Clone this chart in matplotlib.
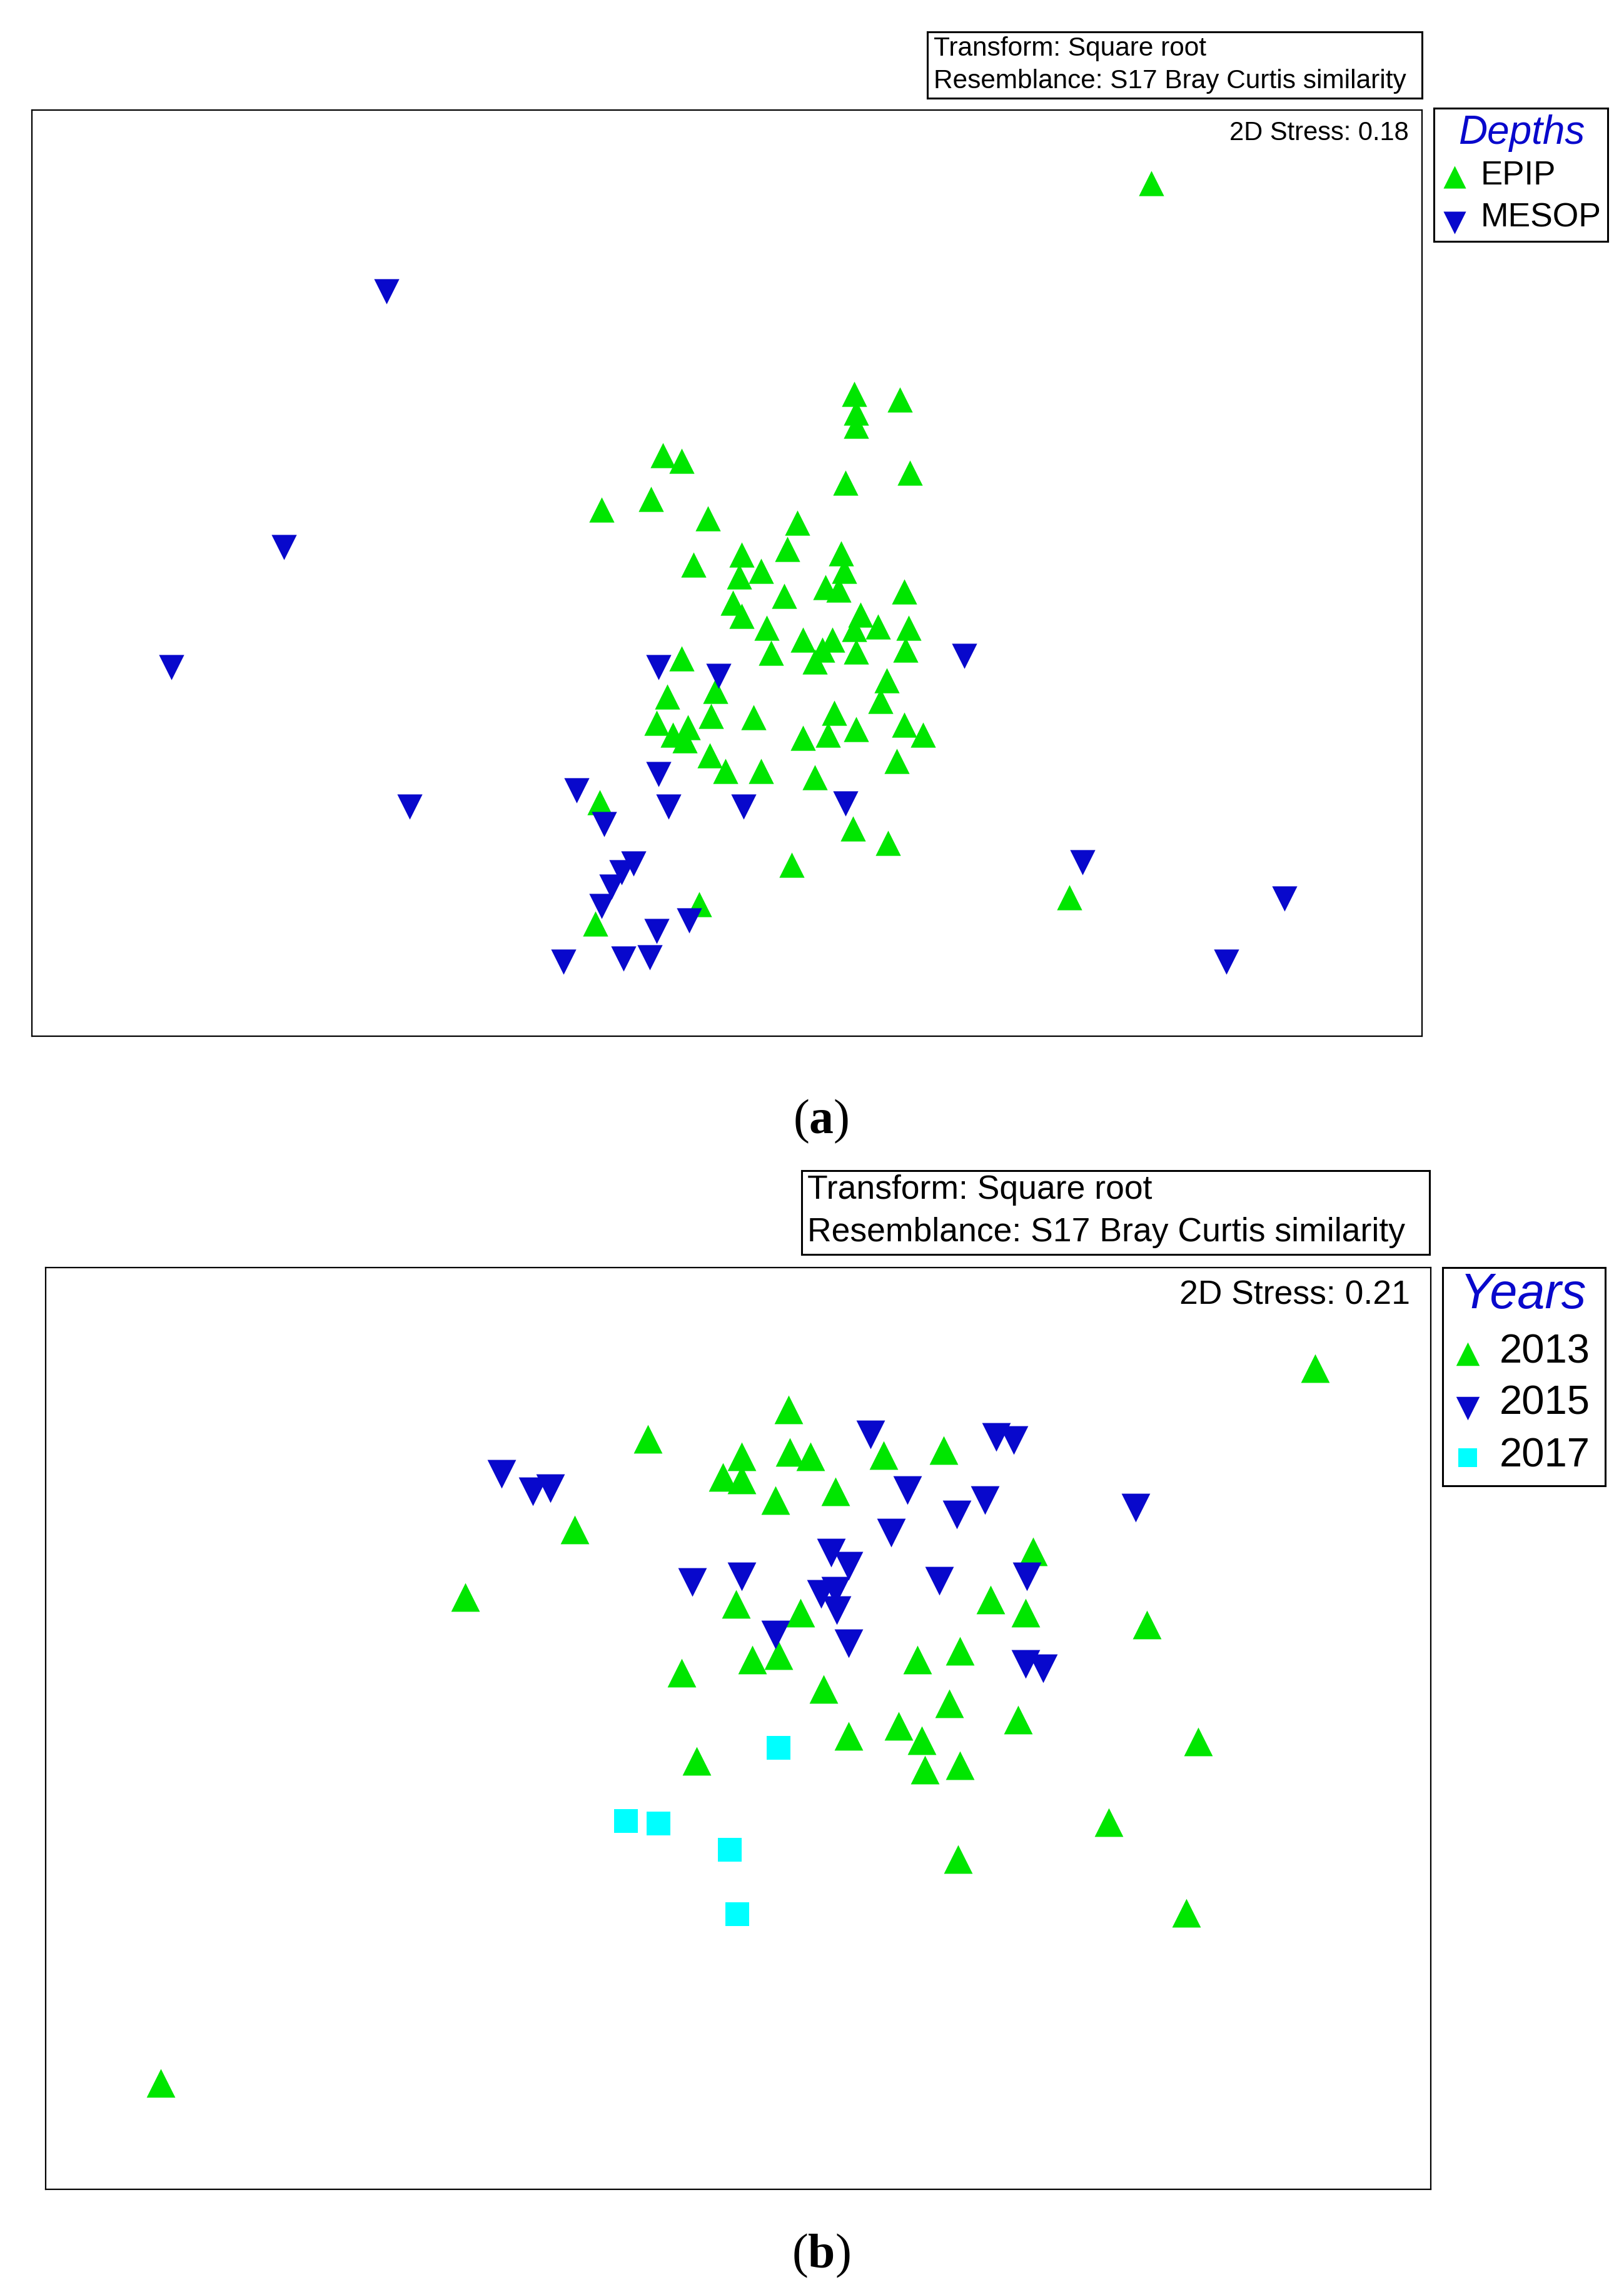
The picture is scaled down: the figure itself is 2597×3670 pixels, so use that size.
import matplotlib
matplotlib.use("Agg")
import matplotlib.pyplot as plt

plt.rcParams['font.family'] = ['Liberation Sans', 'DejaVu Sans']
plt.rcParams['mathtext.fontset'] = 'custom'
plt.rcParams['mathtext.rm'] = 'Liberation Serif'
plt.rcParams['mathtext.bf'] = 'Liberation Serif:bold'

# ---- dados (a): profundidades, coordenadas nMDS ----
epip_x = [787, 584, 615, 585, 585, 453, 466, 578, 622, 411, 445, 484, 545, 474, 507,
          520, 505, 538, 575, 577, 564, 573, 501, 536, 618, 507, 524, 549, 569, 588,
          600, 584, 621, 562, 557, 585, 619, 527, 466, 489, 606, 456, 602, 449, 486,
          515, 570, 618, 631, 460, 470, 468, 549, 566, 585, 485, 496, 520, 557, 613,
          410, 583, 607, 541, 731, 478, 407]
epip_y = [125, 269, 273, 282, 291, 311, 315, 330, 323, 348, 341, 354, 357, 386, 379,
          390, 394, 375, 378, 390, 401, 403, 412, 407, 404, 421, 429, 437, 437, 420,
          428, 430, 429, 444, 452, 445, 444, 446, 450, 472, 465, 476, 479, 494, 489,
          490, 487, 495, 502, 502, 497, 506, 504, 502, 498, 516, 527, 527, 531, 520,
          548, 566, 576, 591, 613, 618, 631]
mesop_x = [264, 194, 117, 280, 659, 450, 491, 394, 450, 413, 457, 508, 578, 433, 425,
           418, 411, 471, 449, 385, 426, 444, 740, 878, 838]
mesop_y = [199, 374, 456, 551, 448, 456, 462, 540, 529, 563, 551, 551, 549, 590, 596,
           606, 619, 629, 636, 657, 655, 654, 589, 614, 657]

# ---- dados (b): anos ----
y2013_x = [899, 539, 443, 507, 540, 554, 604, 645, 494, 507, 530, 571, 393, 318, 706,
           503, 547, 677, 701, 784, 466, 514, 532, 627, 656, 563, 649, 580, 614, 630,
           696, 476, 632, 656, 819, 758, 655, 811, 110]
y2013_y = [935, 963, 983, 995, 992, 995, 994, 991, 1009, 1011, 1025, 1019, 1045, 1091, 1060,
           1096, 1102, 1093, 1102, 1110, 1143, 1134, 1131, 1134, 1128, 1154, 1164, 1186, 1179, 1189,
           1175, 1203, 1209, 1206, 1190, 1245, 1270, 1307, 1423]
y2015_x = [343, 364, 376, 595, 681, 693, 620, 673, 654, 776, 609, 473, 507, 568, 580,
           642, 702, 561, 571, 572, 530, 580, 701, 713]
y2015_y = [1007, 1019, 1017, 980, 982, 984, 1018, 1025, 1035, 1030, 1047, 1081, 1077, 1061, 1070,
           1080, 1077, 1089, 1087, 1100, 1117, 1123, 1137, 1140]
y2017_x = [532, 428, 450, 499, 504]
y2017_y = [1194, 1244, 1246, 1264, 1308]

verde = '#00e600'
azul = '#0808cc'
ciano = '#00ffff'

W, H = 1110.0, 1568.0
fig = plt.figure(figsize=(25.97, 36.70), dpi=100)


def caixa(x0, y0, x1, y1, lw=1.6):
    # eixo com limites em "pixels" da figura reduzida
    ax = fig.add_axes([x0 / W, 1 - y1 / H, (x1 - x0) / W, (y1 - y0) / H])
    ax.set_xlim(x0, x1)
    ax.set_ylim(y1, y0)
    ax.set_xticks([])
    ax.set_yticks([])
    for s in ax.spines.values():
        s.set_linewidth(lw)
    return ax


# ---------------- painel (a) ----------------
axA = caixa(22, 75, 972, 708)
axA.scatter(epip_x, epip_y, marker='^', s=29**2, color=verde, linewidths=0, zorder=3)
axA.scatter(mesop_x, mesop_y, marker='v', s=29**2, color=azul, linewidths=0, zorder=3)
axA.text(963, 91, '2D Stress: 0.18', ha='right', va='center', fontsize=30)

tA = caixa(634, 22, 972, 67, lw=2.2)
tA.text(638, 33.5, 'Transform: Square root', va='center', fontsize=30.5)
tA.text(638, 55.5, 'Resemblance: S17 Bray Curtis similarity', va='center', fontsize=30.5)

lA = caixa(980, 74, 1099, 165, lw=2.2)
lA.text(1040, 91, 'Depths', ha='center', va='center', fontsize=46, style='italic', color=azul)
lA.scatter([994], [121], marker='^', s=26**2, color=verde, linewidths=0)
lA.scatter([994], [152], marker='v', s=26**2, color=azul, linewidths=0)
lA.text(1012, 120, 'EPIP', va='center', fontsize=38)
lA.text(1012, 149, 'MESOP', va='center', fontsize=38.5)

fig.text(561 / W, 1 - 766 / H, r'($\mathbf{a}$)', ha='center', va='center',
         fontsize=56, family='Liberation Serif')

# ---------------- painel (b) ----------------
axB = caixa(31, 866, 978, 1496)
axB.scatter(y2013_x, y2013_y, marker='^', s=33**2, color=verde, linewidths=0, zorder=3)
axB.scatter(y2015_x, y2015_y, marker='v', s=33**2, color=azul, linewidths=0, zorder=3)
axB.scatter(y2017_x, y2017_y, marker='s', s=27**2, color=ciano, linewidths=0, zorder=3)
axB.text(964, 885, '2D Stress: 0.21', ha='right', va='center', fontsize=38.5)

tB = caixa(548, 800, 977, 857, lw=2.2)
tB.text(552, 813, 'Transform: Square root', va='center', fontsize=38.5)
tB.text(552, 842, 'Resemblance: S17 Bray Curtis similarity', va='center', fontsize=38.5)

lB = caixa(986, 866, 1097, 1015, lw=2.2)
lB.text(1041, 885, 'Years', ha='center', va='center', fontsize=57, style='italic', color=azul)
lB.scatter([1003], [925], marker='^', s=27**2, color=verde, linewidths=0)
lB.scatter([1003], [962], marker='v', s=27**2, color=azul, linewidths=0)
lB.scatter([1003], [996], marker='s', s=22**2, color=ciano, linewidths=0)
lB.text(1025, 924, '2013', va='center', fontsize=47)
lB.text(1025, 959, '2015', va='center', fontsize=47)
lB.text(1025, 995, '2017', va='center', fontsize=47)

fig.text(561 / W, 1 - 1541 / H, r'($\mathbf{b}$)', ha='center', va='center',
         fontsize=56, family='Liberation Serif')

fig.savefig('out.png', dpi=100, facecolor='white')
